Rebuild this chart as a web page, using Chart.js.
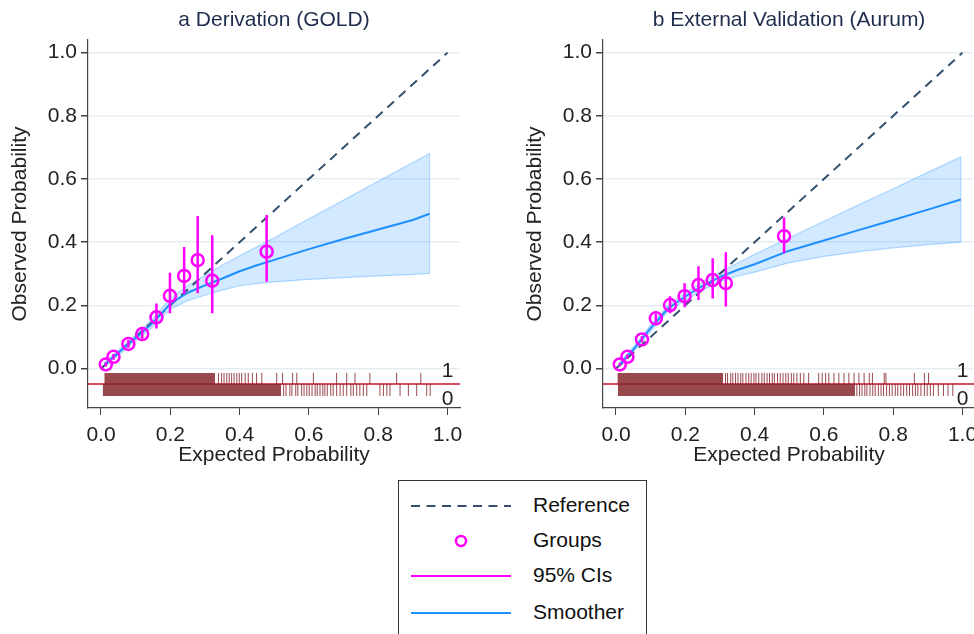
<!DOCTYPE html>
<html>
<head>
<meta charset="utf-8">
<script src="https://cdn.jsdelivr.net/npm/chart.js@4.4.1/dist/chart.umd.min.js"></script>
<style>
  html, body { margin: 0; padding: 0; background: #fff; }
  body { width: 974px; height: 634px; position: relative; overflow: hidden; font-family: "Liberation Sans", Arial, sans-serif; }
  .panel { position: absolute; top: 0; width: 480px; height: 470px; }
  #legend { position: absolute; left: 398px; top: 480px; width: 249px; height: 170px; border: 1.5px solid #333; box-sizing: border-box; }
  #legend .lab { position: absolute; left: 134px; font-size: 21px; color: #111; }
</style>
</head>
<body>
<div class="panel" style="left:0"><canvas id="goldChart" width="480" height="470"></canvas></div>
<div class="panel" style="left:515px"><canvas id="aurumChart" width="480" height="470"></canvas></div>
<div id="legend">
  <svg width="249" height="170" style="position:absolute;left:0;top:0">
    <line x1="12" y1="25" x2="112" y2="25" stroke="#34506e" stroke-width="2" stroke-dasharray="9,6.5"/>
    <circle cx="62" cy="60" r="5" fill="none" stroke="#ff00ff" stroke-width="2.5"/>
    <line x1="12" y1="95" x2="112" y2="95" stroke="#ff00ff" stroke-width="2"/>
    <line x1="12" y1="132" x2="112" y2="132" stroke="#1e8fff" stroke-width="2"/>
  </svg>
  <div class="lab" style="top:12px">Reference</div>
  <div class="lab" style="top:47px">Groups</div>
  <div class="lab" style="top:82px">95% CIs</div>
  <div class="lab" style="top:119px">Smoother</div>
</div>
<script>
// axis ticks
var xTicks = [0, 0.2, 0.4, 0.6, 0.8, 1.0];
var yTicks = [0, 0.2, 0.4, 0.6, 0.8, 1.0];

// a Derivation (GOLD)
var goldGroupX = [0.014, 0.036, 0.079, 0.119, 0.160, 0.199, 0.240, 0.279, 0.321, 0.478];
var goldGroupY = [0.013, 0.037, 0.078, 0.109, 0.162, 0.230, 0.293, 0.343, 0.278, 0.370];
var goldCiLow  = [0.006, 0.028, 0.066, 0.094, 0.127, 0.175, 0.236, 0.238, 0.175, 0.275];
var goldCiHigh = [0.020, 0.046, 0.090, 0.124, 0.206, 0.303, 0.385, 0.483, 0.422, 0.486];
var goldSmoothX = [0.01, 0.05, 0.1, 0.15, 0.2, 0.25, 0.3, 0.35, 0.4, 0.45, 0.5, 0.6, 0.7, 0.8, 0.9, 0.948];
var goldSmoothY = [0.012, 0.05, 0.097, 0.145, 0.205, 0.24, 0.263, 0.285, 0.308, 0.327, 0.344, 0.378, 0.41, 0.44, 0.47, 0.49];
var goldBandHigh = [0.02, 0.058, 0.107, 0.158, 0.222, 0.262, 0.295, 0.327, 0.357, 0.385, 0.414, 0.474, 0.533, 0.593, 0.652, 0.681];
var goldBandLow  = [0.005, 0.042, 0.087, 0.132, 0.188, 0.215, 0.232, 0.248, 0.262, 0.269, 0.274, 0.282, 0.288, 0.293, 0.298, 0.301];
var goldRug1Solid = [0.0095, 0.329];
var goldRug1 = [0.339, 0.348, 0.355, 0.363, 0.370, 0.377, 0.384, 0.392, 0.399, 0.406, 0.416, 0.425, 0.437, 0.449, 0.464,
                0.507, 0.524, 0.553, 0.565, 0.613, 0.680, 0.709, 0.733, 0.776, 0.853, 0.923];
var goldRug0Solid = [0.005, 0.52];
var goldRug0 = [0.527, 0.534, 0.545, 0.551, 0.562, 0.568, 0.579, 0.586, 0.594, 0.601, 0.609,
                0.618, 0.624, 0.632, 0.640, 0.646, 0.653, 0.663, 0.670, 0.680, 0.690, 0.699, 0.709, 0.721, 0.728,
                0.738, 0.747, 0.757, 0.767, 0.805, 0.815, 0.825, 0.834, 0.863, 0.887, 0.911, 0.940, 0.950];

// b External Validation (Aurum)
var aurumGroupX = [0.011, 0.033, 0.075, 0.115, 0.156, 0.198, 0.238, 0.279, 0.317, 0.485];
var aurumGroupY = [0.013, 0.037, 0.092, 0.159, 0.201, 0.229, 0.264, 0.280, 0.270, 0.419];
var aurumCiLow  = [0.008, 0.030, 0.082, 0.145, 0.175, 0.194, 0.217, 0.222, 0.196, 0.366];
var aurumCiHigh = [0.018, 0.044, 0.102, 0.173, 0.229, 0.270, 0.324, 0.349, 0.368, 0.478];
var aurumSmoothX = [0.01, 0.05, 0.1, 0.15, 0.2, 0.25, 0.3, 0.35, 0.4, 0.5, 0.6, 0.7, 0.8, 0.9, 0.995];
var aurumSmoothY = [0.012, 0.06, 0.128, 0.19, 0.228, 0.262, 0.29, 0.312, 0.33, 0.373, 0.405, 0.438, 0.47, 0.503, 0.535];
var aurumBandHigh = [0.02, 0.068, 0.138, 0.2, 0.24, 0.275, 0.305, 0.333, 0.362, 0.414, 0.466, 0.518, 0.569, 0.621, 0.67];
var aurumBandLow  = [0.005, 0.053, 0.118, 0.18, 0.216, 0.248, 0.275, 0.292, 0.305, 0.335, 0.355, 0.37, 0.382, 0.392, 0.40];
var aurumRug1Solid = [0.004, 0.309];
var aurumRug1 = [0.316, 0.322, 0.331, 0.337, 0.345, 0.352, 0.360, 0.366, 0.375, 0.383, 0.390, 0.398, 0.404, 0.412,
                 0.421, 0.428, 0.436, 0.443, 0.451, 0.457, 0.466, 0.474, 0.482, 0.490, 0.497, 0.506, 0.513,
                 0.522, 0.532, 0.542, 0.556, 0.585, 0.595, 0.605, 0.614, 0.629, 0.643, 0.658, 0.672, 0.687,
                 0.701, 0.716, 0.731, 0.740, 0.774, 0.779, 0.861, 0.890, 0.902];
var aurumRug0Solid = [0.005, 0.69];
var aurumRug0 = [0.695, 0.703, 0.710, 0.718, 0.724, 0.733, 0.741, 0.748, 0.757, 0.765, 0.772, 0.781, 0.789, 0.797,
                 0.806, 0.813, 0.822, 0.830, 0.839, 0.847, 0.856, 0.864, 0.871, 0.880, 0.890, 0.898, 0.907, 0.916,
                 0.930, 0.945, 0.958, 0.972];

var FONT = "'Liberation Sans', Arial, sans-serif";
var RUG_BASE = -0.049, RUG_TOP = -0.014, RUG_BOTTOM = -0.087;
var RUG_COLOR = "rgba(135,40,46,0.85)";

function pairs(xs, ys) {
    return xs.map(function (x, i) { return { x: x, y: ys[i] }; });
}

// vertical segments separated by gaps
function segments(xs, lo, hi) {
    var pts = [];
    xs.forEach(function (x, i) {
        pts.push({ x: x, y: Array.isArray(lo) ? lo[i] : lo });
        pts.push({ x: x, y: Array.isArray(hi) ? hi[i] : hi });
        pts.push({ x: x, y: null });
    });
    return pts;
}

// panel title over the plot area + the 1/0 rug labels
var panelText = {
    id: "panelText",
    afterDatasetsDraw: function (chart, args, opts) {
        var ctx = chart.ctx, sx = chart.scales.x, sy = chart.scales.y, a = chart.chartArea;
        ctx.save();
        ctx.font = "21px " + FONT;
        ctx.textAlign = "center";
        ctx.textBaseline = "middle";
        ctx.fillStyle = "#1f2d4d";
        ctx.fillText(opts.title, (a.left + a.right) / 2, 20);
        ctx.fillStyle = "#222";
        ctx.fillText("1", sx.getPixelForValue(1.0), sy.getPixelForValue(-0.01));
        ctx.fillText("0", sx.getPixelForValue(1.0), sy.getPixelForValue(-0.097));
        ctx.restore();
    }
};

function makeChart(id, title, d) {
    var line = { pointRadius: 0, showLine: true, spanGaps: false, tension: 0 };
    new Chart(document.getElementById(id), {
        type: "scatter",
        data: {
            datasets: [
                { data: pairs(d.gx, d.gy), showLine: false, pointRadius: 6, pointBorderWidth: 2.5,
                    pointBorderColor: "#ff00ff", pointBackgroundColor: "rgba(0,0,0,0)" },
                Object.assign({}, line, { data: segments(d.gx, d.lo, d.hi), borderColor: "#ff00ff", borderWidth: 2.5 }),
                Object.assign({}, line, { data: pairs(d.sx, d.sy), borderColor: "#1e8fff", borderWidth: 2 }),
                Object.assign({}, line, { data: [{ x: 0, y: 0 }, { x: 1, y: 1 }], borderColor: "#34506e", borderWidth: 2, borderDash: [9, 6.5] }),
                Object.assign({}, line, { data: pairs(d.sx, d.bh), borderColor: "rgba(30,143,255,0.3)", borderWidth: 1.2,
                    backgroundColor: "rgba(30,143,255,0.2)", fill: "+1" }),
                Object.assign({}, line, { data: pairs(d.sx, d.bl), borderColor: "rgba(30,143,255,0.3)", borderWidth: 1.2 }),
                Object.assign({}, line, { data: [{ x: d.sx[d.sx.length - 1], y: d.bl[d.bl.length - 1] }, { x: d.sx[d.sx.length - 1], y: d.bh[d.bh.length - 1] }],
                    borderColor: "rgba(30,143,255,0.3)", borderWidth: 1.2 }),
                Object.assign({}, line, { data: segments(d.r1, RUG_BASE, RUG_TOP), borderColor: RUG_COLOR, borderWidth: 1 }),
                Object.assign({}, line, { data: segments(d.r0, RUG_BOTTOM, RUG_BASE), borderColor: RUG_COLOR, borderWidth: 1 }),
                Object.assign({}, line, { data: [{ x: d.r1s[0], y: RUG_TOP }, { x: d.r1s[1], y: RUG_TOP }], borderWidth: 0,
                    backgroundColor: RUG_COLOR, fill: { value: RUG_BASE } }),
                Object.assign({}, line, { data: [{ x: d.r0s[0], y: RUG_BOTTOM }, { x: d.r0s[1], y: RUG_BOTTOM }], borderWidth: 0,
                    backgroundColor: RUG_COLOR, fill: { value: RUG_BASE } }),
                Object.assign({}, line, { data: [{ x: -0.1, y: RUG_BASE }, { x: 1.1, y: RUG_BASE }], borderColor: "#c8102e", borderWidth: 1.5 })
            ]
        },
        options: {
            responsive: false,
            animation: false,
            layout: { padding: { left: 8, right: 20, top: 40, bottom: 0 } },
            plugins: {
                legend: { display: false },
                tooltip: { enabled: false },
                title: { display: false },
                panelText: { title: title }
            },
            scales: {
                x: {
                    type: "linear", min: -0.0375, max: 1.036,
                    afterBuildTicks: function (s) { s.ticks = xTicks.map(function (v) { return { value: v }; }); },
                    afterFit: function (s) { s.height = 62; },
                    ticks: { color: "#222", font: { family: FONT, size: 21 }, padding: 8,
                        callback: function (v) { return v.toFixed(1); } },
                    grid: { drawOnChartArea: false, tickColor: "#444", tickLength: 7 },
                    border: { color: "#444", width: 1.2 },
                    title: { display: true, text: "Expected Probability", color: "#222", font: { family: FONT, size: 21 }, padding: { top: 0, bottom: 2 } }
                },
                y: {
                    type: "linear", min: -0.125, max: 1.04,
                    afterBuildTicks: function (s) { s.ticks = yTicks.map(function (v) { return { value: v }; }); },
                    afterFit: function (s) { s.width = 80; },
                    ticks: { color: "#222", font: { family: FONT, size: 21 }, padding: 4,
                        callback: function (v) { return v.toFixed(1); } },
                    grid: { color: "#e4edf1", lineWidth: 1.5, tickColor: "#444", tickLength: 7 },
                    border: { color: "#444", width: 1.2 },
                    title: { display: true, text: "Observed Probability", color: "#222", font: { family: FONT, size: 21 }, padding: 0 }
                }
            }
        },
        plugins: [panelText]
    });
}

makeChart("goldChart", "a Derivation (GOLD)", {
    gx: goldGroupX, gy: goldGroupY, lo: goldCiLow, hi: goldCiHigh,
    sx: goldSmoothX, sy: goldSmoothY, bh: goldBandHigh, bl: goldBandLow,
    r1: goldRug1, r1s: goldRug1Solid, r0: goldRug0, r0s: goldRug0Solid
});
makeChart("aurumChart", "b External Validation (Aurum)", {
    gx: aurumGroupX, gy: aurumGroupY, lo: aurumCiLow, hi: aurumCiHigh,
    sx: aurumSmoothX, sy: aurumSmoothY, bh: aurumBandHigh, bl: aurumBandLow,
    r1: aurumRug1, r1s: aurumRug1Solid, r0: aurumRug0, r0s: aurumRug0Solid
});
</script>
</body>
</html>
